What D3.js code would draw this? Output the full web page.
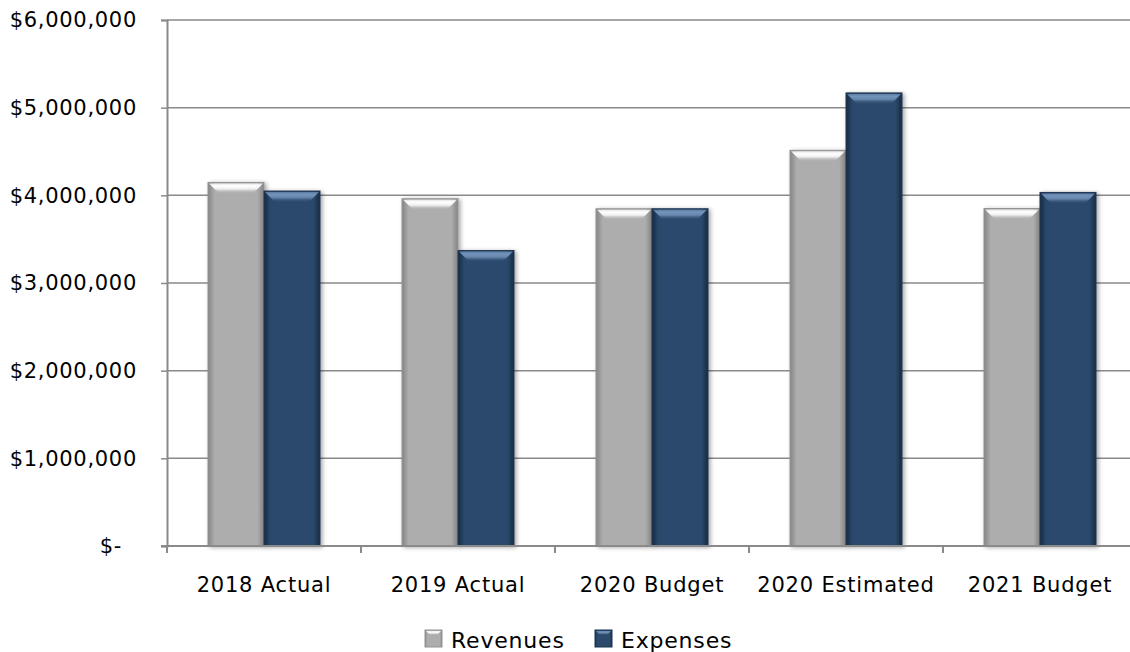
<!DOCTYPE html>
<html>
<head>
<meta charset="utf-8">
<script src="https://cdn.jsdelivr.net/npm/d3@7"></script>
<style>
  body { margin: 0; background: #fff; }
  svg text { font-family: "DejaVu Sans", sans-serif; fill: #000; }
</style>
</head>
<body>
<svg id="chart" width="1130" height="652"></svg>
<script>
// chart data
const categories = ['2018 Actual', '2019 Actual', '2020 Budget', '2020 Estimated', '2021 Budget'];
const seriesNames = ['Revenues', 'Expenses'];
const revenues = [4147000, 3961000, 3847000, 4513000, 3850000];
const expenses = [4049000, 3370000, 3847000, 5168000, 4033000];
const yTicks = [0, 1000000, 2000000, 3000000, 4000000, 5000000, 6000000];

const BEVEL = 10;
const GROUP_WIDTH = 112;

const styles = {
    Revenues: {edge: '#858585', body: '#adadad', light: '#ffffff', stroke: '#939393'},
    Expenses: {edge: '#172a43', body: '#2c4a6c', light: '#7394bb', stroke: '#1f3552'}
};

const svg = d3.select('#chart');

const x0 = d3.scaleBand().domain(categories).range([167, 1137]);
const x1 = d3.scaleBand().domain(seriesNames).range([0, GROUP_WIDTH]);
const y = d3.scaleLinear().domain([0, 6000000]).range([546, 20]);

// gradients + shadow
const defs = svg.append('defs');
seriesNames.forEach((name, i) => {
    const s = styles[name];
    const h = defs.append('linearGradient').attr('id', 'side' + i)
        .attr('x1', 0).attr('x2', 1).attr('y1', 0).attr('y2', 0);
    h.append('stop').attr('offset', '0%').attr('stop-color', s.edge);
    h.append('stop').attr('offset', '12%').attr('stop-color', s.body);
    h.append('stop').attr('offset', '88%').attr('stop-color', s.body);
    h.append('stop').attr('offset', '100%').attr('stop-color', s.edge);

    const v = defs.append('linearGradient').attr('id', 'cap' + i)
        .attr('x1', 0).attr('x2', 0).attr('y1', 0).attr('y2', 1);
    v.append('stop').attr('offset', '0%').attr('stop-color', s.light).attr('stop-opacity', 0.7);
    v.append('stop').attr('offset', '25%').attr('stop-color', s.light).attr('stop-opacity', 1);
    v.append('stop').attr('offset', '55%').attr('stop-color', s.light).attr('stop-opacity', 0.8);
    v.append('stop').attr('offset', '100%').attr('stop-color', s.body).attr('stop-opacity', 0.1);
});
defs.append('filter').attr('id', 'shadow')
    .attr('x', '-20%').attr('y', '-10%').attr('width', '150%').attr('height', '130%')
    .append('feDropShadow')
    .attr('dx', 2).attr('dy', 1).attr('stdDeviation', 2)
    .attr('flood-color', '#000').attr('flood-opacity', 0.35);

// gridlines + y axis
const yAxis = svg.append('g')
    .attr('transform', `translate(${x0.range()[0]},0)`)
    .call(d3.axisLeft(y).tickValues(yTicks).tickSize(6).tickPadding(24)
        .tickFormat(d => d === 0 ? '$-' : d3.format('$,')(d)));
yAxis.select('.domain').attr('stroke', '#8a8a8a').attr('stroke-width', 2);
yAxis.selectAll('.tick line').attr('stroke', '#8a8a8a').attr('stroke-width', 1.5);
yAxis.selectAll('.tick text')
    .style('font-size', '21px').style('letter-spacing', '0.7px')
    .attr('dx', d => d === 0 ? -15 : 0);

svg.append('g')
    .selectAll('line')
    .data(yTicks.filter(d => d > 0))
    .join('line')
    .attr('x1', x0.range()[0]).attr('x2', 1130)
    .attr('y1', d => y(d)).attr('y2', d => y(d))
    .attr('stroke', '#8a8a8a').attr('stroke-width', 1.5);

// bars
const rows = categories.map((c, i) => ({category: c, values: [revenues[i], expenses[i]]}));
const offset = (x0.bandwidth() - GROUP_WIDTH) / 2;

const groups = svg.append('g').selectAll('g')
    .data(rows)
    .join('g')
    .attr('transform', d => `translate(${x0(d.category) + offset},0)`);

const bars = groups.selectAll('g')
    .data(d => d.values.map((v, i) => ({series: seriesNames[i], idx: i, value: v})))
    .join('g')
    .attr('filter', 'url(#shadow)');

bars.append('rect')
    .attr('x', d => x1(d.series))
    .attr('y', d => y(d.value))
    .attr('width', x1.bandwidth())
    .attr('height', d => y(0) - y(d.value))
    .attr('fill', d => `url(#side${d.idx})`)
    .attr('stroke', d => styles[d.series].stroke)
    .attr('stroke-width', 1);

bars.append('polygon')
    .attr('points', d => {
        const xl = x1(d.series) + 1, xr = xl + x1.bandwidth() - 2, yt = y(d.value) + 1;
        return [[xl, yt], [xr, yt], [xr - BEVEL, yt + BEVEL], [xl + BEVEL, yt + BEVEL]].join(' ');
    })
    .attr('fill', d => `url(#cap${d.idx})`);

// x axis
const xEdges = categories.map(c => x0(c)).concat([x0.range()[1]]);
const xAxis = svg.append('g');
xAxis.append('line')
    .attr('x1', x0.range()[0] - 6).attr('x2', x0.range()[1])
    .attr('y1', y(0)).attr('y2', y(0))
    .attr('stroke', '#8a8a8a').attr('stroke-width', 2);
xAxis.selectAll('line.tick')
    .data(xEdges)
    .join('line')
    .attr('class', 'tick')
    .attr('x1', d => d).attr('x2', d => d)
    .attr('y1', y(0)).attr('y2', y(0) + 7)
    .attr('stroke', '#8a8a8a').attr('stroke-width', 2);
xAxis.selectAll('text')
    .data(categories)
    .join('text')
    .attr('x', d => x0(d) + x0.bandwidth() / 2)
    .attr('y', 592)
    .attr('text-anchor', 'middle')
    .style('font-size', '21px')
    .style('letter-spacing', '0.8px')
    .text(d => d);

// legend
const legendX = [425, 595];
const legend = svg.append('g').selectAll('g')
    .data(seriesNames)
    .join('g')
    .attr('transform', (d, i) => `translate(${legendX[i]},630)`);
legend.append('rect')
    .attr('width', 17).attr('height', 17)
    .attr('fill', (d, i) => `url(#side${i})`)
    .attr('stroke', d => styles[d].stroke);
legend.append('polygon')
    .attr('points', '1,1 16,1 12,5 5,5')
    .attr('fill', (d, i) => `url(#cap${i})`);
legend.append('text')
    .attr('x', 26).attr('y', 17.5)
    .style('font-size', '22px')
    .style('letter-spacing', '0.8px')
    .text(d => d);
</script>
</body>
</html>
